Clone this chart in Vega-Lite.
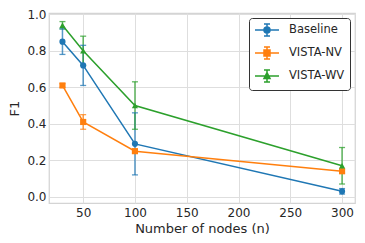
{
  "$schema": "https://vega.github.io/schema/vega-lite/v6.json",
  "width": 306,
  "height": 190,
  "autosize": "none",
  "padding": {"left": 49, "top": 13, "right": 10, "bottom": 40},
  "background": "white",
  "config": {
    "font": "DejaVu Sans",
    "view": {"stroke": "#d4d4d4", "strokeWidth": 1.25},
    "axis": {
      "grid": true,
      "gridColor": "#dedede",
      "gridWidth": 1,
      "domain": false,
      "ticks": false,
      "labelOverlap": false,
      "labelFlush": false,
      "labelBound": false,
      "labelFont": "DejaVu Sans",
      "labelFontSize": 12,
      "labelColor": "#262626",
      "titleFont": "DejaVu Sans",
      "titleFontSize": 13,
      "titleFontWeight": "normal",
      "titleColor": "#262626"
    },
    "legend": {
      "labelFont": "DejaVu Sans",
      "labelFontSize": 11.5,
      "labelColor": "#262626"
    }
  },
  "data": {
    "values": [
      {"n": 30, "method": "Baseline", "f1": 0.85, "lo": 0.78, "hi": 0.92},
      {"n": 50, "method": "Baseline", "f1": 0.72, "lo": 0.61, "hi": 0.83},
      {"n": 100, "method": "Baseline", "f1": 0.29, "lo": 0.12, "hi": 0.46},
      {"n": 300, "method": "Baseline", "f1": 0.03, "lo": 0.015, "hi": 0.045},
      {"n": 30, "method": "VISTA-NV", "f1": 0.61, "lo": 0.6, "hi": 0.62},
      {"n": 50, "method": "VISTA-NV", "f1": 0.41, "lo": 0.37, "hi": 0.45},
      {"n": 100, "method": "VISTA-NV", "f1": 0.25, "lo": 0.24, "hi": 0.26},
      {"n": 300, "method": "VISTA-NV", "f1": 0.14, "lo": 0.13, "hi": 0.15},
      {"n": 30, "method": "VISTA-WV", "f1": 0.94, "lo": 0.92, "hi": 0.96},
      {"n": 50, "method": "VISTA-WV", "f1": 0.8, "lo": 0.72, "hi": 0.88},
      {"n": 100, "method": "VISTA-WV", "f1": 0.5, "lo": 0.37, "hi": 0.63},
      {"n": 300, "method": "VISTA-WV", "f1": 0.17, "lo": 0.07, "hi": 0.27}
    ]
  },
  "encoding": {
    "x": {
      "field": "n",
      "type": "quantitative",
      "scale": {"domain": [17, 312.5], "nice": false, "zero": false},
      "axis": {"values": [50, 100, 150, 200, 250, 300], "title": "Number of nodes (n)", "labelPadding": 4, "titlePadding": 4}
    },
    "color": {
      "field": "method",
      "type": "nominal",
      "scale": {"domain": ["Baseline", "VISTA-NV", "VISTA-WV"], "range": ["#1f77b4", "#ff7f0e", "#2ca02c"]},
      "legend": {
        "title": null,
        "orient": "top-right",
        "offset": 5,
        "fillColor": "white",
        "strokeColor": "#333333",
        "cornerRadius": 3,
        "padding": 5,
        "rowPadding": 5,
        "symbolSize": 144,
        "symbolStrokeWidth": 1.5,
        "labelOffset": 21,
        "encoding": {
          "symbols": {
            "shape": {"value": {"expr": "datum.value === 'Baseline' ? 'M-1,0H3M1,-1V1M0.5,-1H1.5M0.5,1H1.5M0.5,0A0.5,0.5 0 1,0 1.5,0A0.5,0.5 0 1,0 0.5,0Z' : datum.value === 'VISTA-NV' ? 'M-1,0H3M1,-1V1M0.5,-1H1.5M0.5,1H1.5M0.5,-0.5H1.5V0.5H0.5Z' : 'M-1,0H3M1,-1V1M0.5,-1H1.5M0.5,1H1.5M1,-0.55L1.5,0.4H0.5Z'"}},
            "fill": {"value": {"expr": "scale('color', datum.value)"}},
            "stroke": {"value": {"expr": "scale('color', datum.value)"}},
            "strokeWidth": {"value": 1.5},
            "opacity": {"value": 1}
          }
        }
      }
    }
  },
  "layer": [
    {
      "mark": {"type": "rule", "strokeWidth": 1.5, "opacity": 0.75},
      "encoding": {
        "y": {"field": "lo", "type": "quantitative", "scale": {"domain": [-0.034, 1.007], "nice": false, "zero": false}, "axis": {"values": [0, 0.2, 0.4, 0.6, 0.8, 1.0], "format": ".1f", "title": "F1", "labelPadding": 3, "titlePadding": 5}},
        "y2": {"field": "hi"}
      }
    },
    {
      "mark": {"type": "tick", "orient": "horizontal", "size": 6, "thickness": 1.3, "opacity": 0.75},
      "encoding": {"y": {"field": "lo", "type": "quantitative", "axis": {"values": [0, 0.2, 0.4, 0.6, 0.8, 1.0], "format": ".1f", "title": "F1", "labelPadding": 3, "titlePadding": 5}}}
    },
    {
      "mark": {"type": "tick", "orient": "horizontal", "size": 6, "thickness": 1.3, "opacity": 0.75},
      "encoding": {"y": {"field": "hi", "type": "quantitative", "axis": {"values": [0, 0.2, 0.4, 0.6, 0.8, 1.0], "format": ".1f", "title": "F1", "labelPadding": 3, "titlePadding": 5}}}
    },
    {
      "mark": {"type": "line", "strokeWidth": 1.5},
      "encoding": {
        "y": {"field": "f1", "type": "quantitative", "axis": {"values": [0, 0.2, 0.4, 0.6, 0.8, 1.0], "format": ".1f", "title": "F1", "labelPadding": 3, "titlePadding": 5}},
        "detail": {"field": "method"}
      }
    },
    {
      "transform": [{"calculate": "datum.method", "as": "marker"}],
      "mark": {"type": "point", "filled": true, "opacity": 1, "size": 38},
      "encoding": {
        "y": {"field": "f1", "type": "quantitative", "axis": {"values": [0, 0.2, 0.4, 0.6, 0.8, 1.0], "format": ".1f", "title": "F1", "labelPadding": 3, "titlePadding": 5}},
        "shape": {
          "field": "marker",
          "type": "nominal",
          "scale": {"range": ["circle", "square", "triangle-up"]},
          "legend": null
        }
      }
    }
  ]
}
